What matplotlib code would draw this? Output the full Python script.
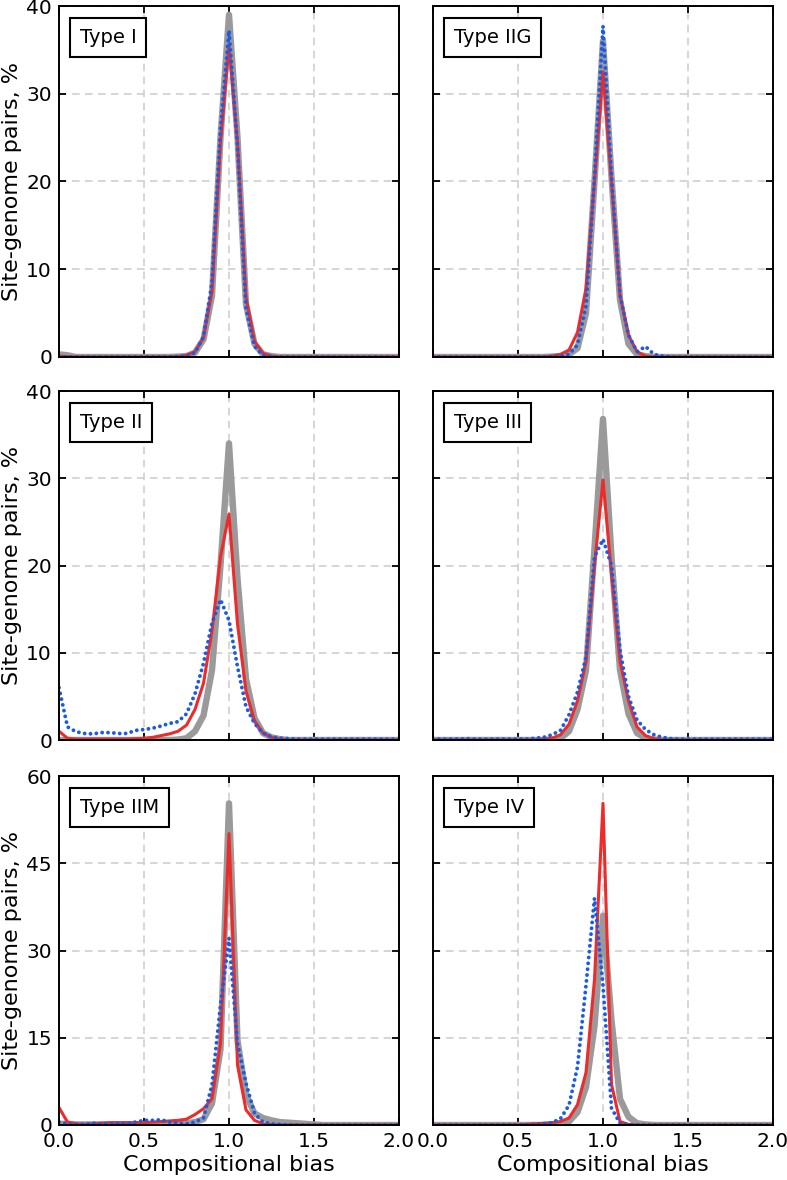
import matplotlib
matplotlib.use("Agg")
import matplotlib.pyplot as plt
import numpy as np

# ---------------- data ----------------
bias = [0.00, 0.05, 0.10, 0.15, 0.20, 0.25, 0.30, 0.35, 0.40, 0.45,
        0.50, 0.55, 0.60, 0.65, 0.70, 0.75, 0.80, 0.85, 0.90, 0.95,
        1.00, 1.05, 1.10, 1.15, 1.20, 1.25, 1.30, 1.35, 1.40, 1.45,
        1.50, 1.55, 1.60, 1.65, 1.70, 1.75, 1.80, 1.85, 1.90, 1.95, 2.00]

panel_names = ["Type I", "Type IIG", "Type II", "Type III", "Type IIM", "Type IV"]

typeI_gray = [0.3, 0.2, 0, 0, 0, 0, 0, 0, 0, 0, 0, 0, 0, 0, 0.05, 0.1, 0.5, 2.0, 7.0, 25.0,
              39.0, 25.0, 6.0, 1.5, 0.3, 0.1, 0, 0, 0, 0, 0, 0, 0, 0, 0, 0, 0, 0, 0, 0, 0]
typeI_red = [0.1, 0.05, 0, 0, 0, 0, 0, 0, 0, 0, 0, 0, 0, 0, 0.05, 0.2, 0.6, 2.2, 7.5, 24.5,
             35.5, 24.5, 6.8, 1.8, 0.4, 0.1, 0, 0, 0, 0, 0, 0, 0, 0, 0, 0, 0, 0, 0, 0, 0]
typeI_blue = [0.05, 0, 0, 0, 0, 0, 0, 0, 0, 0, 0, 0, 0, 0, 0.05, 0.1, 0.5, 2.3, 8.5, 26.0,
              37.2, 24.0, 5.5, 1.2, 0.2, 0.05, 0, 0, 0, 0, 0, 0, 0, 0, 0, 0, 0, 0, 0, 0, 0]

typeIIG_gray = [0, 0, 0, 0, 0, 0, 0, 0, 0, 0, 0, 0, 0, 0, 0.05, 0.1, 0.3, 1.0, 5.0, 20.0,
                36.0, 20.5, 6.5, 1.5, 0.3, 0.1, 0, 0, 0, 0, 0, 0, 0, 0, 0, 0, 0, 0, 0, 0, 0]
typeIIG_red = [0, 0, 0, 0, 0, 0, 0, 0, 0, 0, 0, 0, 0, 0, 0.1, 0.3, 0.8, 2.8, 7.8, 20.0,
               32.5, 20.0, 7.0, 2.5, 0.6, 0.1, 0, 0, 0, 0, 0, 0, 0, 0, 0, 0, 0, 0, 0, 0, 0]
typeIIG_blue = [0, 0, 0, 0, 0, 0, 0, 0, 0, 0, 0, 0, 0, 0, 0.05, 0.1, 0.3, 1.4, 5.8, 20.5,
                37.7, 20.5, 7.0, 2.5, 0.6, 1.2, 0.3, 0.1, 0, 0, 0, 0, 0, 0, 0, 0, 0, 0, 0, 0, 0]

typeII_gray = [0, 0, 0, 0, 0, 0, 0, 0, 0, 0, 0, 0, 0, 0, 0.05, 0.2, 1.0, 2.8, 8.0, 20.0,
               34.0, 18.5, 7.0, 2.5, 0.8, 0.3, 0.1, 0, 0, 0, 0, 0, 0, 0, 0, 0, 0, 0, 0, 0, 0]
typeII_red = [1.0, 0.2, 0.1, 0.1, 0.1, 0.1, 0.1, 0.1, 0.1, 0.15, 0.2, 0.3, 0.5, 0.7, 1.0, 1.7,
              3.5, 6.5, 12.5, 21.0, 25.9, 13.3, 5.6, 2.2, 0.8, 0.3, 0.1, 0, 0, 0, 0, 0, 0, 0,
              0, 0, 0, 0, 0, 0, 0]
typeII_blue = [6.0, 1.5, 0.95, 0.75, 0.7, 0.85, 0.85, 0.75, 0.75, 1.1, 1.2, 1.35, 1.6, 1.9, 2.1,
               3.0, 5.3, 8.8, 13.4, 16.1, 13.7, 8.4, 3.8, 1.9, 0.8, 0.35, 0.2, 0.15, 0.1, 0.1,
               0.1, 0.1, 0.1, 0.1, 0.1, 0.1, 0.1, 0.1, 0.1, 0.1, 0.1]

typeIII_gray = [0, 0, 0, 0, 0, 0, 0, 0, 0, 0, 0, 0, 0, 0, 0.05, 0.2, 1.0, 3.5, 8.0, 22.0,
                36.8, 21.0, 8.0, 3.0, 0.8, 0.2, 0.05, 0, 0, 0, 0, 0, 0, 0, 0, 0, 0, 0, 0, 0, 0]
typeIII_red = [0, 0, 0, 0, 0, 0, 0, 0, 0, 0, 0, 0, 0, 0.1, 0.2, 0.6, 1.8, 4.5, 9.0, 20.0,
               29.8, 19.0, 9.0, 4.5, 1.5, 0.5, 0.15, 0, 0, 0, 0, 0, 0, 0, 0, 0, 0, 0, 0, 0, 0]
typeIII_blue = [0.1, 0.1, 0.1, 0.1, 0.15, 0.1, 0.1, 0.1, 0.1, 0.1, 0.1, 0.1, 0.2, 0.3, 0.6,
                1.1, 2.9, 5.5, 9.5, 21.0, 23.0, 20.0, 10.3, 5.0, 2.3, 1.2, 0.6, 0.3, 0.15, 0.1,
                0.1, 0.1, 0.1, 0.1, 0.1, 0.1, 0.1, 0.1, 0.1, 0.1, 0.1]

typeIIM_gray = [0.2, 0.2, 0.1, 0.1, 0.1, 0.1, 0.1, 0.1, 0.1, 0.1, 0.1, 0.1, 0.1, 0.1, 0.2, 0.3,
                0.5, 1.0, 3.7, 13.0, 55.3, 14.5, 5.2, 2.0, 1.2, 0.8, 0.5, 0.4, 0.3, 0.2, 0.1,
                0, 0, 0, 0, 0, 0, 0, 0, 0, 0]
typeIIM_red = [3.0, 0.5, 0.2, 0.1, 0.2, 0.3, 0.4, 0.4, 0.4, 0.4, 0.4, 0.5, 0.6, 0.7, 0.8, 1.0,
               1.8, 2.8, 4.5, 14.0, 50.1, 10.3, 2.6, 0.8, 0.2, 0.05, 0, 0, 0, 0, 0, 0, 0, 0,
               0, 0, 0, 0, 0, 0, 0]
typeIIM_blue = [0.5, 0.2, 0.1, 0.1, 0.3, 0.2, 0.2, 0.3, 0.3, 0.5, 0.8, 0.8, 0.9, 0.5, 0.3, 0.2,
                0.5, 1.2, 6.9, 20.6, 32.1, 14.0, 7.2, 2.0, 0.5, 0.2, 0.1, 0, 0, 0, 0, 0, 0, 0,
                0, 0, 0, 0, 0, 0, 0]

typeIV_gray = [0, 0, 0, 0, 0, 0, 0, 0, 0, 0, 0, 0, 0, 0, 0.05, 0.2, 0.6, 2.2, 6.5, 17.0,
               36.0, 18.0, 4.5, 1.4, 0.3, 0.1, 0, 0, 0, 0, 0, 0, 0, 0, 0, 0, 0, 0, 0, 0, 0]
typeIV_red = [0, 0, 0, 0, 0, 0, 0, 0, 0, 0, 0, 0.1, 0.2, 0.3, 0.4, 0.6, 1.2, 3.5, 9.0, 25.0,
              55.3, 7.0, 0.6, 0.1, 0, 0, 0, 0, 0, 0, 0, 0, 0, 0, 0, 0, 0, 0, 0, 0, 0]
typeIV_blue = [0, 0, 0, 0, 0, 0, 0, 0, 0, 0, 0, 0, 0.1, 0.2, 0.4, 1.1, 3.4, 10.0, 24.0, 39.0,
               24.0, 2.9, 0.3, 0.05, 0, 0, 0, 0, 0, 0, 0, 0, 0, 0, 0, 0, 0, 0, 0, 0, 0]

gray_series = [typeI_gray, typeIIG_gray, typeII_gray, typeIII_gray, typeIIM_gray, typeIV_gray]
red_series = [typeI_red, typeIIG_red, typeII_red, typeIII_red, typeIIM_red, typeIV_red]
blue_series = [typeI_blue, typeIIG_blue, typeII_blue, typeIII_blue, typeIIM_blue, typeIV_blue]

yticks_rows = [[0, 10, 20, 30, 40], [0, 10, 20, 30, 40], [0, 15, 30, 45, 60]]
xticks = [0.0, 0.5, 1.0, 1.5, 2.0]
xtick_labels = ["0.0", "0.5", "1.0", "1.5", "2.0"]
ylabel = "Site-genome pairs, %"
xlabel = "Compositional bias"

# ---------------- figure ----------------
W, H = 787, 1180
fig = plt.figure(figsize=(W / 100, H / 100), dpi=100)

col_px = [(59, 399), (433, 773)]
row_px = [(6, 357), (391, 740), (776, 1125)]

GRAY = "#9a9a9a"
RED = "#ee2b2b"
BLUE = "#1a5be6"

for i, name in enumerate(panel_names):
    r, c = divmod(i, 2)
    x0, x1 = col_px[c]
    yt, yb = row_px[r]
    ax = fig.add_axes([x0 / W, 1 - yb / H, (x1 - x0) / W, (yb - yt) / H])

    ax.plot(bias, gray_series[i], color=GRAY, lw=4.6, solid_joinstyle="round",
            solid_capstyle="round", zorder=3)
    ax.plot(bias, red_series[i], color=RED, lw=2.2, solid_joinstyle="round", zorder=4)
    ax.plot(bias, blue_series[i], color=BLUE, lw=2.8, linestyle=(0, (0.01, 1.5)),
            dash_capstyle="round", zorder=5)

    yt_list = yticks_rows[r]
    ax.set_xlim(0, 2)
    ax.set_ylim(yt_list[0], yt_list[-1])
    ax.set_xticks(xticks)
    ax.set_yticks(yt_list)

    ax.grid(True, color="#cccccc", linestyle=(0, (5, 3.5)), lw=1.1, zorder=0)
    ax.set_axisbelow(True)

    ax.tick_params(direction="in", length=5, width=1.3, top=True, right=True,
                   labelsize=14.5, pad=5, colors="black")
    for sp in ax.spines.values():
        sp.set_linewidth(1.4)
        sp.set_zorder(10)

    if c == 0:
        ax.set_ylabel(ylabel, fontsize=16, labelpad=3)
    else:
        ax.tick_params(labelleft=False)
    if r == 2:
        ax.set_xticklabels(xtick_labels)
        ax.set_xlabel(xlabel, fontsize=16, labelpad=3)
    else:
        ax.tick_params(labelbottom=False)

    ax.text(0.061, 0.937, name, transform=ax.transAxes, fontsize=14, ha="left", va="top",
            zorder=20,
            bbox=dict(boxstyle="square,pad=0.5", fc="white", ec="black", lw=1.5))

fig.savefig("out.png", dpi=100)
